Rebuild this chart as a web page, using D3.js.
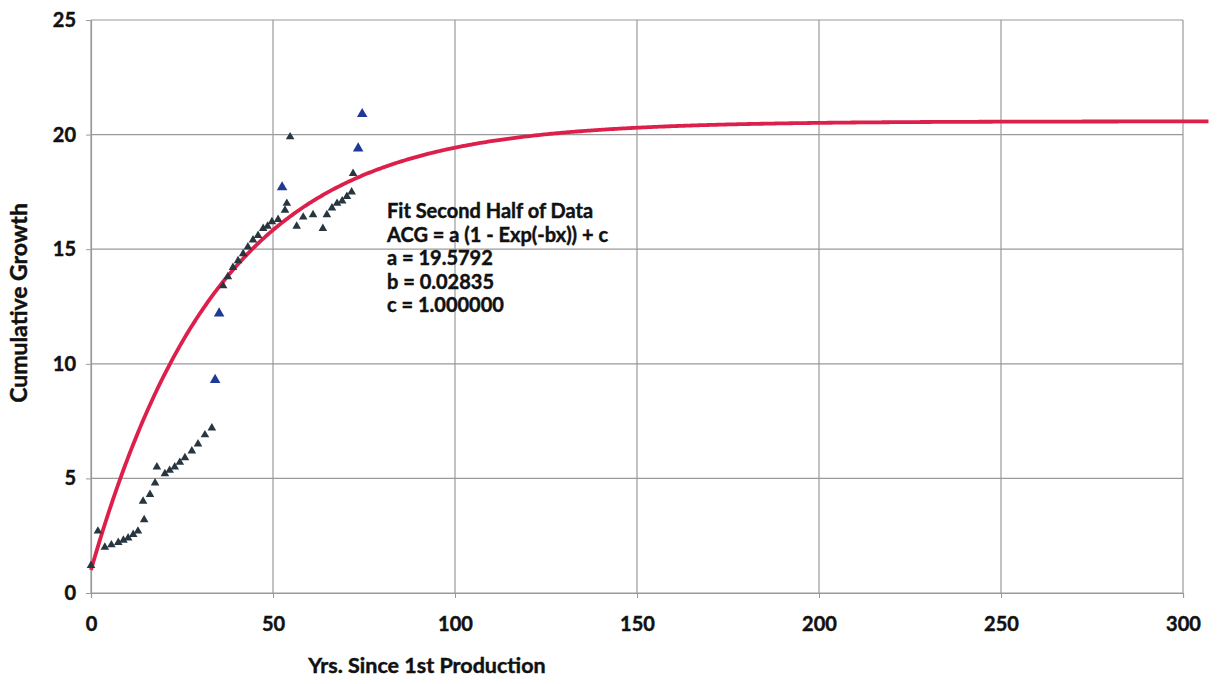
<!DOCTYPE html>
<html>
<head>
<meta charset="utf-8">
<script src="https://cdn.jsdelivr.net/npm/d3@7"></script>
<style>
  body { margin: 0; background: #fff; }
  text { font-family: Lato, "Open Sans", sans-serif; font-weight: 700; fill: #111;
         stroke: #111; stroke-width: 0.45px; }
</style>
</head>
<body>
<div id="chart"></div>
<script>
// observed cumulative growth (dark markers)
var obsX = [0, 1.9, 3.8, 5.6, 7.5, 8.9, 10.2, 11.6, 12.9, 14.6,
            14.3, 16.2, 17.6, 18.1, 20.3, 21.6, 23, 24.4, 25.8, 27.7, 29.4, 31.3, 33.2,
            36.3, 37.6, 39, 40.4, 41.8, 43.1, 44.5, 45.9, 47.3, 48.5, 49.7, 51.4, 53.3, 53.8,
            56.5, 58.3, 61, 63.7, 64.8, 66.2, 67.6, 69, 70.3, 71.6, 72, 54.7];
var obsY = [1.2, 2.7, 2.0, 2.1, 2.2, 2.3, 2.4, 2.55, 2.7, 3.2,
            4.0, 4.3, 4.8, 5.5, 5.2, 5.35, 5.5, 5.7, 5.9, 6.2, 6.5, 6.9, 7.2,
            13.4, 13.8, 14.2, 14.5, 14.8, 15.1, 15.4, 15.6, 15.9, 16.0, 16.2, 16.3, 16.7, 17.0,
            16.0, 16.4, 16.5, 15.9, 16.5, 16.8, 17.0, 17.1, 17.3, 17.5, 18.3, 19.9];
// outliers (blue triangles)
var outX = [34.1, 35.2, 52.5, 73.4, 74.5];
var outY = [9.3, 12.2, 17.7, 19.4, 20.9];
// fitted model
var fitA = 19.5792, fitB = 0.02835, fitC = 1.0;
var xTicks = [0, 50, 100, 150, 200, 250, 300];
var yTicks = [0, 5, 10, 15, 20, 25];
var noteLines = ["Fit Second Half of Data", "ACG = a (1 - Exp(-bx)) + c",
                 "a = 19.5792", "b = 0.02835", "c = 1.000000"];

var W = 1218, H = 684;
var x = d3.scaleLinear().domain([0, 300]).range([91, 1183]);
var y = d3.scaleLinear().domain([0, 25]).range([593, 20]);

var svg = d3.select("#chart").append("svg").attr("width", W).attr("height", H);

// grid
svg.append("g").selectAll("line").data(yTicks).join("line")
  .attr("x1", x(0)).attr("x2", x(300))
  .attr("y1", function (d) { return y(d); }).attr("y2", function (d) { return y(d); })
  .attr("stroke", "#9a9a9a").attr("stroke-width", 1.2);
svg.append("g").selectAll("line").data(xTicks).join("line")
  .attr("y1", y(0)).attr("y2", y(25))
  .attr("x1", function (d) { return x(d); }).attr("x2", function (d) { return x(d); })
  .attr("stroke", "#9a9a9a").attr("stroke-width", 1.2);

// axes
var yAxis = svg.append("g").attr("transform", "translate(" + x(0) + ",0)")
  .call(d3.axisLeft(y).tickValues(yTicks).tickSize(5).tickPadding(10));
var xAxis = svg.append("g").attr("transform", "translate(0," + y(0) + ")")
  .call(d3.axisBottom(x).tickValues(xTicks).tickSize(5).tickPadding(19));
[yAxis, xAxis].forEach(function (a) {
  a.select(".domain").attr("stroke", "#9a9a9a").attr("stroke-width", 1.2);
  a.selectAll(".tick line").attr("stroke", "#9a9a9a");
  a.selectAll("text").style("font-family", "Lato, sans-serif")
    .style("font-weight", "700").attr("font-size", 20).attr("fill", "#111");
});

// fit curve
var fitXs = d3.range(0, 307.5, 0.5);
svg.append("path")
  .datum(fitXs)
  .attr("d", d3.line()
    .x(function (d) { return x(d); })
    .y(function (d) { return y(fitA * (1 - Math.exp(-fitB * d)) + fitC); }))
  .attr("fill", "none").attr("stroke", "#dc1f4b").attr("stroke-width", 3.8);

// observed markers
var tri = d3.symbol().type(d3.symbolTriangle);
svg.append("g").selectAll("path").data(obsX).join("path")
  .attr("transform", function (d, i) {
    return "translate(" + x(d) + "," + y(obsY[i]) + ")";
  })
  .attr("d", tri.size(32)())
  .attr("fill", "#27363f");

svg.append("g").selectAll("path").data(outX).join("path")
  .attr("transform", function (d, i) {
    return "translate(" + x(d) + "," + y(outY[i]) + ")";
  })
  .attr("d", tri.size(48)())
  .attr("fill", "#1f3a96");

// annotation
svg.append("g").selectAll("text").data(noteLines).join("text")
  .attr("x", 387).attr("y", function (d, i) { return 218 + i * 23.6; })
  .attr("font-size", 20)
  .text(function (d) { return d; });

// axis titles
svg.append("text").attr("x", 427).attr("y", 673).attr("text-anchor", "middle")
  .attr("font-size", 21.5).text("Yrs. Since 1st Production");
svg.append("text").attr("transform", "translate(27,303) rotate(-90)")
  .attr("text-anchor", "middle").attr("font-size", 23).text("Cumulative Growth");
</script>
</body>
</html>
